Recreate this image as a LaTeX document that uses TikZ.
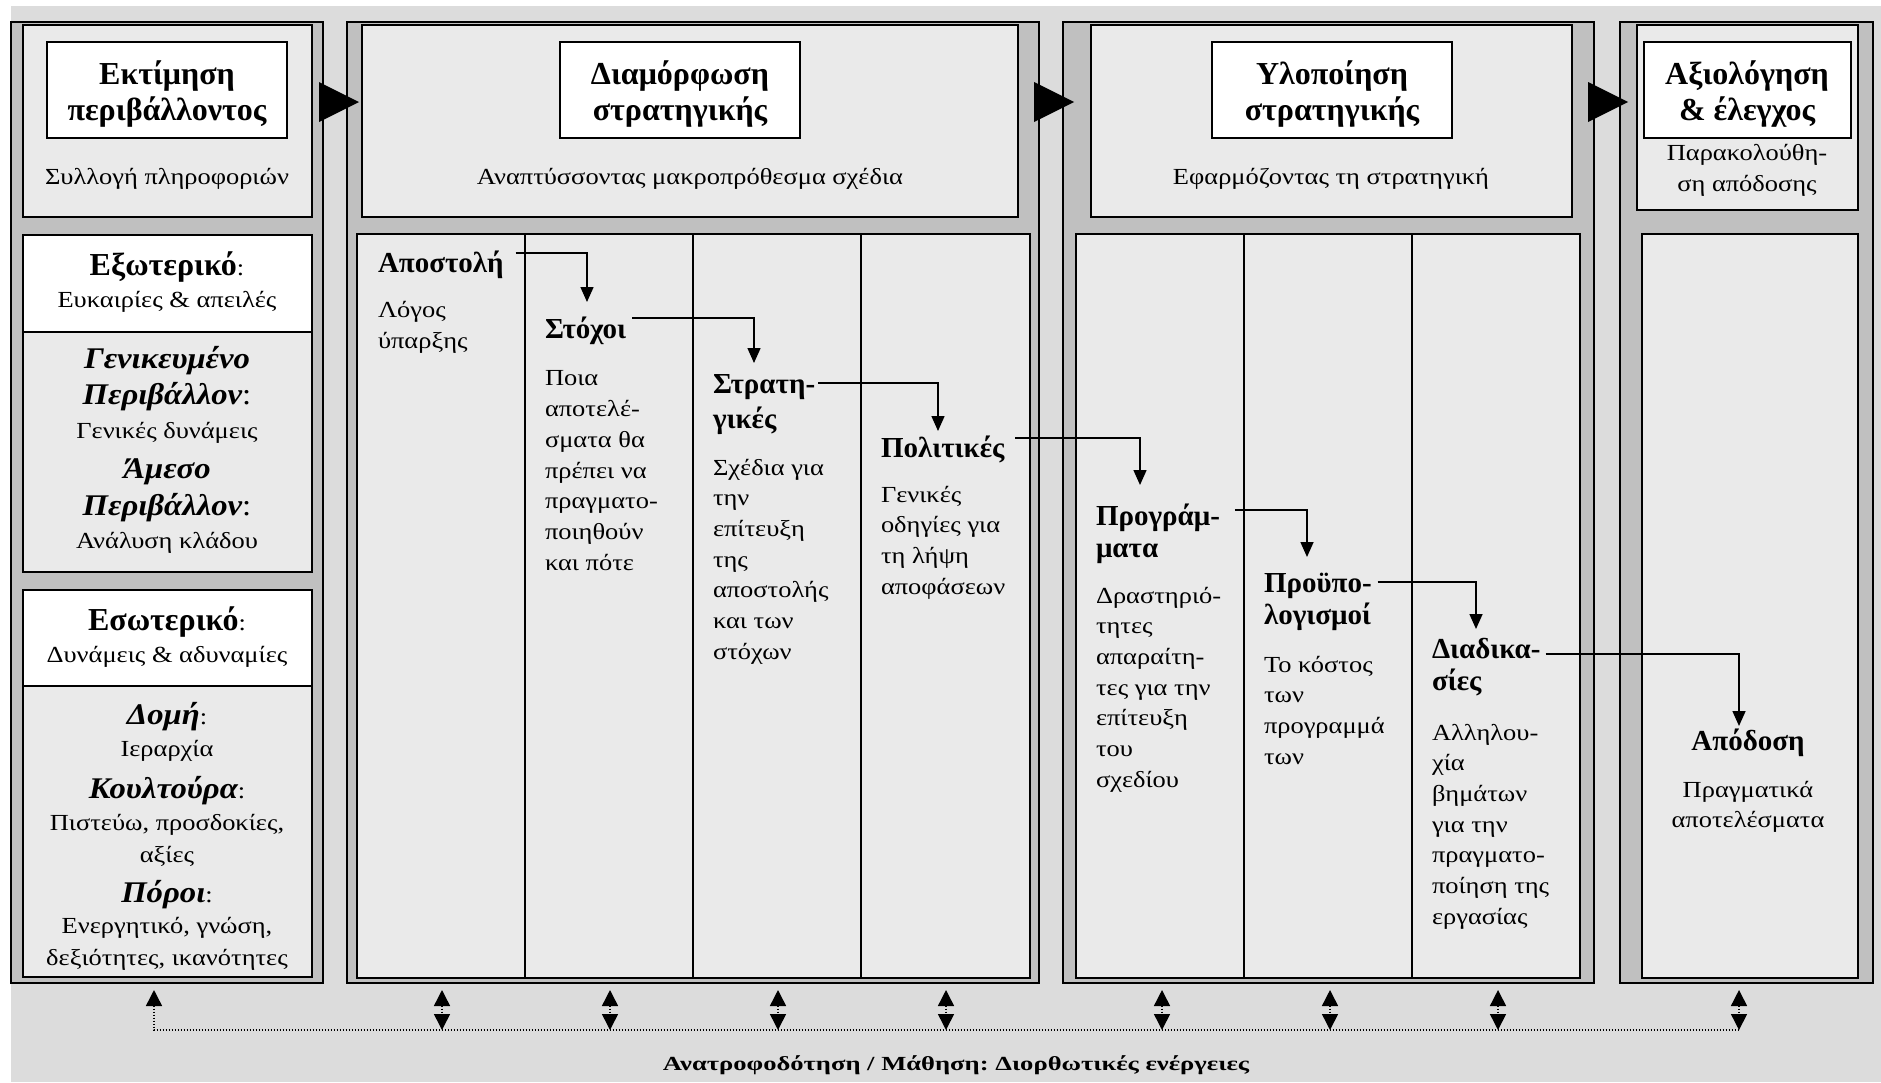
\documentclass[tikz,border=0pt]{standalone}
\usepackage{fontspec}
\setmainfont{Liberation Serif}
\newfontfamily\dgWide{Liberation Serif}[FakeStretch=1.15]
\newfontfamily\dgWideBI{Liberation Serif}[FakeStretch=1.09]
\newfontfamily\dgNoteFam{Liberation Serif}[FakeStretch=1.33]
\usetikzlibrary{arrows.meta,calc}
\frenchspacing

\definecolor{bggray}{gray}{0.863}
\definecolor{bandgray}{gray}{0.753}
\definecolor{fillgray}{gray}{0.918}

\newcommand\dgBody{\dgWide\fontsize{23}{30.7}\selectfont}
\newcommand\dgHead{\rmfamily\fontsize{29}{32}\selectfont\bfseries}
\newcommand\dgHeadWide{\rmfamily\fontsize{29}{35}\selectfont\bfseries}
\newcommand\dgSide{\rmfamily\fontsize{32}{36}\selectfont\bfseries}
\newcommand\dgTitle{\rmfamily\fontsize{32}{36}\selectfont\bfseries}
\newcommand\dgEnv{\dgWideBI\fontsize{30}{36.5}\selectfont\bfseries\itshape}
\newcommand\dgEnvBody{\dgWide\fontsize{23}{32}\selectfont}
\newcommand\dgNote{\dgNoteFam\fontsize{20}{24}\selectfont\bfseries}

\tikzset{
  panel/.style={fill=bandgray, draw=black, line width=2pt},
  inbox/.style={fill=fillgray, draw=black, line width=2pt},
  whitebox/.style={fill=white, draw=black, line width=2pt},
  divider/.style={draw=black, line width=1.5pt},
  txt/.style={inner sep=0pt, outer sep=0pt},
  conn/.style={draw=black, line width=1.5pt, -{Triangle[width=13pt,length=15pt]}},
  fb/.style={draw=black, line width=1.5pt, dash pattern=on 1.5pt off 1.5pt},
  fbtip/.tip={Triangle[width=16pt,length=16pt]},
  bigtip/.style={fill=black}
}

\begin{document}
\begin{tikzpicture}[x=1pt, y=-1pt]
\useasboundingbox (0,0) rectangle (1881,1082);
\fill[white] (0,0) rectangle (1881,1082);
\fill[bggray] (11,6) rectangle (1881,1082);

% ---------- the four stage panels ----------
\draw[panel] (11,22) rectangle (323,983);
\draw[panel] (347,22) rectangle (1039,983);
\draw[panel] (1063,22) rectangle (1594,983);
\draw[panel] (1620,22) rectangle (1873,983);

% upper boxes
\draw[inbox] (23,25) rectangle (312,217);
\draw[inbox] (362,25) rectangle (1018,217);
\draw[inbox] (1091,25) rectangle (1572,217);
\draw[inbox] (1637,25) rectangle (1858,210);

% title boxes
\draw[whitebox] (47,42) rectangle (287,138);
\draw[whitebox] (560,42) rectangle (800,138);
\draw[whitebox] (1212,42) rectangle (1452,138);
\draw[whitebox] (1644,42) rectangle (1851,138);

% environment scanning boxes
\draw[inbox] (23,332) rectangle (312,572);
\draw[whitebox] (23,235) rectangle (312,332);
\draw[inbox] (23,686) rectangle (312,977);
\draw[whitebox] (23,590) rectangle (312,686);

% column boxes
\draw[inbox] (357,234) rectangle (1030,978);
\draw[divider] (525,234) -- (525,978);
\draw[divider] (693,234) -- (693,978);
\draw[divider] (861,234) -- (861,978);
\draw[inbox] (1076,234) rectangle (1580,978);
\draw[divider] (1244,234) -- (1244,978);
\draw[divider] (1412,234) -- (1412,978);
\draw[inbox] (1642,234) rectangle (1858,978);

% ---------- titles ----------
\node[txt, anchor=north, align=center, font=\dgTitle] (t1) at (167,58.8) {\strut Εκτίμηση\\περιβάλλοντος};
\node[txt, anchor=north, align=center, font=\dgTitle] (t2) at (680,58.8) {\strut Διαμόρφωση\\στρατηγικής};
\node[txt, anchor=north, align=center, font=\dgTitle] (t3) at (1332,58.8) {\strut Υλοποίηση\\στρατηγικής};
\node[txt, anchor=north, align=center, font=\dgTitle] (t4) at (1747,58.8) {\strut Αξιολόγηση\\\& έλεγχος};

\node[txt, anchor=base, font=\dgBody] (s1) at (167,184) {Συλλογή πληροφοριών};
\node[txt, anchor=base, font=\dgBody] (s2) at (690,184) {Αναπτύσσοντας μακροπρόθεσμα σχέδια};
\node[txt, anchor=base, font=\dgBody] (s3) at (1331,184) {Εφαρμόζοντας τη στρατηγική};
\node[txt, anchor=north, align=center, font={\dgWide\fontsize{23}{31}\selectfont}] (s4) at (1747,138.3) {\strut Παρακολούθη-\\ση απόδοσης};

% ---------- environment scanning ----------
\node[txt, anchor=base, font=\dgBody] (ext) at (167,275) {{\dgSide Εξωτερικό}:};
\node[txt, anchor=base, font=\dgBody] (extb) at (167,307) {Ευκαιρίες \& απειλές};
\node[txt, anchor=north, align=center, font=\dgEnv] (gen) at (167,342.5) {\strut Γενικευμένο\\Περιβάλλον{\upshape\mdseries :}};
\node[txt, anchor=base, font=\dgBody] (genb) at (167,438) {Γενικές δυνάμεις};
\node[txt, anchor=north, align=center, font=\dgEnv] (imm) at (167,453) {\strut Άμεσο\\Περιβάλλον{\upshape\mdseries :}};
\node[txt, anchor=base, font=\dgBody] (immb) at (167,548) {Ανάλυση κλάδου};

\node[txt, anchor=base, font=\dgBody] (int) at (167,630) {{\dgSide Εσωτερικό}:};
\node[txt, anchor=base, font=\dgBody] (intb) at (167,662) {Δυνάμεις \& αδυναμίες};
\node[txt, anchor=base, font=\dgBody] (str) at (167,724) {{\dgEnv Δομή}:};
\node[txt, anchor=base, font=\dgBody] (strb) at (167,756) {Ιεραρχία};
\node[txt, anchor=base, font=\dgBody] (cul) at (167,798) {{\dgEnv Κουλτούρα}:};
\node[txt, anchor=north, align=center, font=\dgEnvBody] (culb) at (167,807.6) {\strut Πιστεύω, προσδοκίες,\\αξίες};
\node[txt, anchor=base, font=\dgBody] (res) at (167,902) {{\dgEnv Πόροι}:};
\node[txt, anchor=north, align=center, font=\dgEnvBody] (resb) at (167,910.6) {\strut Ενεργητικό, γνώση,\\δεξιότητες, ικανότητες};

% ---------- strategy formulation columns ----------
\node[txt, anchor=north west, align=left, font=\dgHead] (h21) at (378,249.6) {\strut Αποστολή};
\node[txt, anchor=north west, align=left, font=\dgBody] (b21) at (378,296.5) {\strut Λόγος\\ύπαρξης};

\node[txt, anchor=north west, align=left, font=\dgHead] (h22) at (545,315.6) {\strut Στόχοι};
\node[txt, anchor=north west, align=left, font=\dgBody] (b22) at (545,364.5) {\strut Ποια\\αποτελέ-\\σματα θα\\πρέπει να\\πραγματο-\\ποιηθούν\\και πότε};

\node[txt, anchor=north west, align=left, font=\dgHeadWide] (h23) at (713,368.5) {\strut Στρατη-\\γικές};
\node[txt, anchor=north west, align=left, font=\dgBody] (b23) at (713,453.5) {\strut Σχέδια για\\την\\επίτευξη\\της\\αποστολής\\και των\\στόχων};

\node[txt, anchor=north west, align=left, font=\dgHead] (h24) at (881,434.6) {\strut Πολιτικές};
\node[txt, anchor=north west, align=left, font=\dgBody] (b24) at (881,480.5) {\strut Γενικές\\οδηγίες για\\τη λήψη\\αποφάσεων};

% ---------- strategy implementation columns ----------
\node[txt, anchor=north west, align=left, font=\dgHead] (h31) at (1096,502.6) {\strut Προγράμ-\\ματα};
\node[txt, anchor=north west, align=left, font=\dgBody] (b31) at (1096,581.5) {\strut Δραστηριό-\\τητες\\απαραίτη-\\τες για την\\επίτευξη\\του\\σχεδίου};

\node[txt, anchor=north west, align=left, font=\dgHead] (h32) at (1264,569.6) {\strut Προϋπο-\\λογισμοί};
\node[txt, anchor=north west, align=left, font=\dgBody] (b32) at (1264,650.5) {\strut Το κόστος\\των\\προγραμμά\\των};

\node[txt, anchor=north west, align=left, font=\dgHead] (h33) at (1432,635.6) {\strut Διαδικα-\\σίες};
\node[txt, anchor=north west, align=left, font=\dgBody] (b33) at (1432,718.5) {\strut Αλληλου-\\χία\\βημάτων\\για την\\πραγματο-\\ποίηση της\\εργασίας};

% ---------- evaluation column ----------
\node[txt, anchor=north, align=center, font=\dgHead] (h41) at (1748,727.6) {\strut Απόδοση};
\node[txt, anchor=north, align=center, font=\dgBody] (b41) at (1748,775.5) {\strut Πραγματικά\\αποτελέσματα};

% ---------- flow between the columns ----------
\draw[conn] ($(h21.north east)+(12,3.4)$) -| ($(h22.north west)+(42,-13.6)$);
\draw[conn] ($(h22.north east)+(6,2.4)$) -| ($(h23.north west)+(41,-5.5)$);
\draw[conn] ($(h23.north east)+(3,14.5)$) -| ($(h24.north west)+(57,-3.6)$);
\draw[conn] ($(h24.north east)+(11,3.4)$) -| ($(h31.north west)+(44,-17.6)$);
\draw[conn] ($(h31.north east)+(15,7.4)$) -| ($(h32.north west)+(43,-12.6)$);
\draw[conn] ($(h32.north east)+(6,12.4)$) -| ($(h33.north west)+(44,-6.6)$);
\draw[conn] ($(h33.north east)+(5,18.4)$) -| ($(h41.north)+(-9,-1.6)$);

% ---------- arrows between the stages ----------
\fill[bigtip] (319,82) -- (319,122) -- (359,102) -- cycle;
\fill[bigtip] (1034,82) -- (1034,122) -- (1074,102) -- cycle;
\fill[bigtip] (1588,82) -- (1588,122) -- (1628,102) -- cycle;

% ---------- feedback loop ----------
\coordinate (fbline) at (0,1030);
\coordinate (fb0) at (154,990);
\coordinate (fb1) at (442,990);
\coordinate (fb2) at (610,990);
\coordinate (fb3) at (778,990);
\coordinate (fb4) at (946,990);
\coordinate (fb5) at (1162,990);
\coordinate (fb6) at (1330,990);
\coordinate (fb7) at (1498,990);
\coordinate (fb8) at (1739,990);
\draw[fb, {fbtip}-] (fb0) |- (fb8 |- fbline);
\foreach \k in {1,...,8}{
  \draw[fb, {fbtip}-{fbtip}] (fb\k) -- (fb\k |- fbline);
}
\node[txt, anchor=base, font=\dgNote] (fbnote) at (956,1070) {Ανατροφοδότηση / Μάθηση: Διορθωτικές ενέργειες};
\end{tikzpicture}
\end{document}
